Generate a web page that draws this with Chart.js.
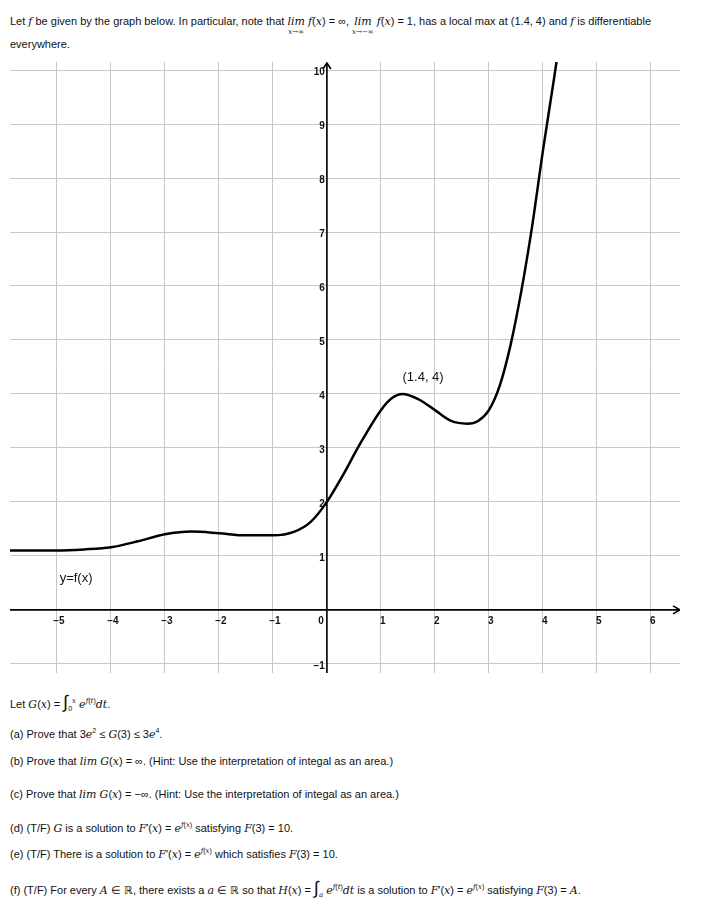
<!DOCTYPE html><html><head><meta charset="utf-8">
<script src="https://cdn.jsdelivr.net/npm/chart.js@4"></script>
<style>
body{margin:0;width:704px;height:908px;position:relative;font-family:"Liberation Sans",Arial,sans-serif;font-size:11px;color:#111;background:#fff}
.t{position:absolute;left:10px;white-space:nowrap}
i{font-family:"DejaVu Serif",serif;font-size:11px}
#wrap{position:absolute;left:10px;top:62px;width:670px;height:611px}
sub{font-size:7px}
</style></head><body>
<div class="t" style="top:15px">Let <i>f</i> be given by the graph below. In particular, note that <span style="display:inline-block;vertical-align:top;text-align:center"><i>lim</i><br><span style="font-size:7px;position:relative;top:-4px"><i style="font-size:7px">x→∞</i></span></span> <i>f</i>(<i>x</i>) = ∞, <span style="display:inline-block;vertical-align:top;text-align:center"><i>lim</i><br><span style="position:relative;top:-4px"><i style="font-size:7px">x→−∞</i></span></span> <i>f</i>(<i>x</i>) = 1, has a local max at (1.4, 4) and <i>f</i> is differentiable</div>
<div class="t" style="top:38px">everywhere.</div>
<div id="wrap"><canvas id="c"></canvas></div>
<div class="t" style="top:692px">Let <i>G</i>(<i>x</i>) = <span style="font-size:18px">∫</span><sub>0</sub><sup style="font-size:7px"><i style="font-size:7px">x</i></sup> <i>e</i><sup style="font-size:7px"><i style="font-size:7px">f</i>(<i style="font-size:7px">t</i>)</sup><i>dt</i>.</div>
<div class="t" style="top:727px">(a) Prove that 3<i>e</i><sup style="font-size:7px">2</sup> ≤ <i>G</i>(3) ≤ 3<i>e</i><sup style="font-size:7px">4</sup>.</div>
<div class="t" style="top:755px">(b) Prove that <i>lim</i> <i>G</i>(<i>x</i>) = ∞. (Hint: Use the interpretation of integal as an area.)</div>
<div class="t" style="top:788px">(c) Prove that <i>lim</i> <i>G</i>(<i>x</i>) = −∞. (Hint: Use the interpretation of integal as an area.)</div>
<div class="t" style="top:821px">(d) (T/F) <i>G</i> is a solution to <i>F</i>′(<i>x</i>) = <i>e</i><sup style="font-size:7px"><i style="font-size:7px">f</i>(<i style="font-size:7px">x</i>)</sup> satisfying <i>F</i>(3) = 10.</div>
<div class="t" style="top:847px">(e) (T/F) There is a solution to <i>F</i>′(<i>x</i>) = <i>e</i><sup style="font-size:7px"><i style="font-size:7px">f</i>(<i style="font-size:7px">x</i>)</sup> which satisfies <i>F</i>(3) = 10.</div>
<div class="t" style="top:878px">(f) (T/F) For every <i>A</i> ∈ ℝ, there exists a <i>a</i> ∈ ℝ so that <i>H</i>(<i>x</i>) = <span style="font-size:18px">∫</span><sub><i style="font-size:7px">a</i></sub> <i>e</i><sup style="font-size:7px"><i style="font-size:7px">f</i>(<i style="font-size:7px">t</i>)</sup><i>dt</i> is a solution to <i>F</i>′(<i>x</i>) = <i>e</i><sup style="font-size:7px"><i style="font-size:7px">f</i>(<i style="font-size:7px">x</i>)</sup> satisfying <i>F</i>(3) = <i>A</i>.</div>
<script>
const xs=[-5.87,-5,-4.5,-4,-3.5,-3,-2.5,-2,-1.5,-1,-0.6,-0.3,0,0.3,0.6,1,1.2,1.4,1.7,2,2.3,2.6,2.8,3,3.2,3.4,3.6,3.8,4,4.2,4.32];
const ys=[1.1,1.1,1.12,1.16,1.27,1.4,1.45,1.42,1.38,1.38,1.45,1.63,2,2.5,3.05,3.7,3.92,4,3.9,3.7,3.5,3.45,3.5,3.7,4.15,4.9,5.9,7.1,8.5,9.8,10.6];
const yTicks=[-1,1,2,3,4,5,6,7,8,9,10];
const xTicks=[-5,-4,-3,-2,-1,0,1,2,3,4,5,6];
const deco={id:'deco',afterDatasetsDraw(ch){const c=ch.ctx,x=ch.scales.x,y=ch.scales.y,a=ch.chartArea;
c.save();c.strokeStyle='#000';c.lineWidth=1.6;
const x0=x.getPixelForValue(0),y0=y.getPixelForValue(0);
c.beginPath();c.moveTo(a.left,y0);c.lineTo(a.right,y0);c.moveTo(x0,a.bottom);c.lineTo(x0,a.top+1);c.stroke();
c.beginPath();c.moveTo(a.right-7,y0-4);c.lineTo(a.right,y0);c.lineTo(a.right-7,y0+4);c.moveTo(x0-4,a.top+7);c.lineTo(x0,a.top+1);c.lineTo(x0+4,a.top+7);c.stroke();
c.fillStyle='#111';c.font='bold 10px "Liberation Sans",Arial';c.textAlign='right';c.textBaseline='middle';
yTicks.forEach(v=>c.fillText(v<0?'−'+(-v):v,x0-2,y.getPixelForValue(v)+2));
c.textAlign='center';c.textBaseline='top';
xTicks.forEach(v=>c.fillText(v<0?'−'+(-v):v,x.getPixelForValue(v)+(v==0?-6:2),y0+6));
c.font='13px "Liberation Sans",Arial';c.textAlign='left';c.textBaseline='middle';
c.fillText('y=f(x)',x.getPixelForValue(-4.95),y.getPixelForValue(0.58));
c.fillText('(1.4, 4)',x.getPixelForValue(1.4),y.getPixelForValue(4.3));
c.restore();}};
new Chart(document.getElementById('c'),{type:'scatter',
data:{datasets:[{data:xs.map((v,i)=>({x:v,y:ys[i]})),showLine:true,borderColor:'#000',borderWidth:2.5,pointRadius:0,cubicInterpolationMode:'monotone',tension:0.4}]},
options:{responsive:true,maintainAspectRatio:false,animation:false,layout:{padding:0},
plugins:{legend:{display:false},tooltip:{enabled:false}},
scales:{x:{type:'linear',min:-5.87,max:6.54,ticks:{display:false,stepSize:1},afterBuildTicks:s=>{s.ticks=xTicks.map(v=>({value:v}))},grid:{color:'#c8c8c8',drawTicks:false},border:{display:false}},
y:{type:'linear',min:-1.17,max:10.15,ticks:{display:false,stepSize:1},afterBuildTicks:s=>{s.ticks=[-1,0,...yTicks.slice(1)].map(v=>({value:v}))},grid:{color:'#c8c8c8',drawTicks:false},border:{display:false}}}},
plugins:[deco]});
</script></body></html>
